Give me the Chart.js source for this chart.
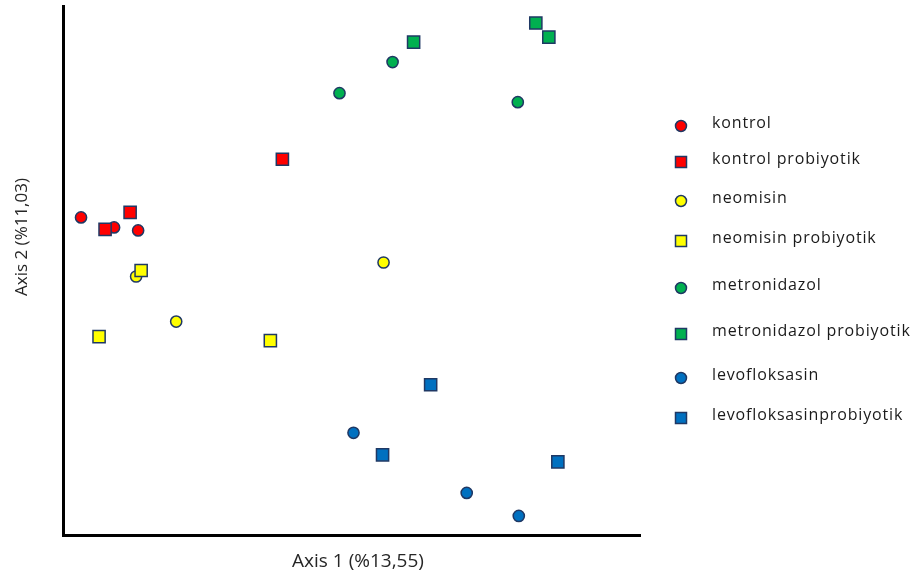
<!DOCTYPE html>
<html>
<head>
<meta charset="utf-8">
<script src="https://cdn.jsdelivr.net/npm/chart.js@4"></script>
<style>
  html, body { margin: 0; padding: 0; background: #fff; }
  #wrap { width: 918px; height: 582px; }
</style>
</head>
<body>
<div id="wrap"><canvas id="grafico"></canvas></div>
<script>
const grupos = ['kontrol', 'kontrol probiyotik', 'neomisin', 'neomisin probiyotik',
  'metronidazol', 'metronidazol probiyotik', 'levofloksasin', 'levofloksasinprobiyotik'];
const colores = ['#ff0000', '#ff0000', '#ffff00', '#ffff00', '#00b050', '#00b050', '#0070c0', '#0070c0'];
const formas = ['circle', 'rect', 'circle', 'rect', 'circle', 'rect', 'circle', 'rect'];

const kontrolX = [18, 51, 75];
const kontrolY = [317, 307, 304];
const kontrolProbX = [42, 67, 219];
const kontrolProbY = [305, 322, 375];
const neomisinX = [73, 113, 320];
const neomisinY = [258, 213, 272];
const neomisinProbX = [78, 36, 207];
const neomisinProbY = [264, 198, 194];
const metroX = [276, 329, 454];
const metroY = [441, 472, 432];
const metroProbX = [350, 472, 485];
const metroProbY = [492, 511, 497];
const levoX = [290, 403, 455];
const levoY = [102, 42, 19];
const levoProbX = [367, 319, 494];
const levoProbY = [150, 80, 73];

const ejesX = [kontrolX, kontrolProbX, neomisinX, neomisinProbX, metroX, metroProbX, levoX, levoProbX];
const ejesY = [kontrolY, kontrolProbY, neomisinY, neomisinProbY, metroY, metroProbY, levoY, levoProbY];

const tituloX = 'Axis 1 (%13,55)';
const tituloY = 'Axis 2 (%11,03)';

/* posiciones verticales de la leyenda (como en el original, espaciado irregular) */
const leyendaY = [126, 162, 201, 241, 288, 334, 378, 418];

const borde = '#1f3864';

let datasets = [];
for (let i = 0; i < grupos.length; i++) {
  let puntos = [];
  for (let j = 0; j < ejesX[i].length; j++) {
    puntos.push({ x: ejesX[i][j], y: ejesY[i][j] });
  }
  datasets.push({
    label: grupos[i],
    data: puntos,
    backgroundColor: colores[i],
    borderColor: borde,
    borderWidth: 1.5,
    pointStyle: formas[i],
    pointRadius: formas[i] === 'rect' ? 8.6 : 5.6,
    pointHoverRadius: formas[i] === 'rect' ? 8.6 : 5.6,
    order: formas[i] === 'rect' ? 0 : 1
  });
}

/* Leyenda y titulos dibujados a mano */
const extras = {
  id: 'extras',
  afterDraw(chart) {
    const ctx = chart.ctx;
    ctx.save();
    // titulos de ejes
    ctx.fillStyle = '#262626';
    ctx.textAlign = 'center';
    ctx.textBaseline = 'middle';
    ctx.font = '19px "Open Sans"';
    ctx.fillText(tituloX, 358, 562);
    ctx.font = '17px "Open Sans"';
    ctx.translate(22, 237);
    ctx.rotate(-Math.PI / 2);
    ctx.fillText(tituloY, 0, 0);
    ctx.restore();

    ctx.save();
    ctx.font = '16px "Open Sans"';
    ctx.letterSpacing = '0.85px';
    ctx.textBaseline = 'middle';
    ctx.textAlign = 'left';
    for (let i = 0; i < grupos.length; i++) {
      const y = leyendaY[i];
      ctx.fillStyle = colores[i];
      ctx.strokeStyle = borde;
      ctx.lineWidth = 1.5;
      ctx.beginPath();
      if (formas[i] === 'circle') {
        ctx.arc(681, y, 5.5, 0, Math.PI * 2);
      } else {
        ctx.rect(675.5, y - 5.5, 11, 11);
      }
      ctx.fill();
      ctx.stroke();
      ctx.fillStyle = '#1a1a1a';
      ctx.fillText(grupos[i], 712, y - 3);
    }
    ctx.restore();
  }
};

const ctx = document.getElementById('grafico');
const grafico = new Chart(ctx, {
  type: 'scatter',
  data: { datasets: datasets },
  options: {
    responsive: true,
    maintainAspectRatio: false,
    animation: false,
    layout: { autoPadding: false, padding: { left: 63, right: 278, top: 6, bottom: 47 } },
    plugins: {
      legend: { display: false },
      tooltip: { enabled: false }
    },
    scales: {
      x: {
        min: 0, max: 576,
        grid: { display: false, drawTicks: false },
        ticks: { display: false },
        border: { display: true, color: '#000', width: 3 }
      },
      y: {
        min: 0, max: 528,
        grid: { display: false, drawTicks: false },
        ticks: { display: false },
        border: { display: true, color: '#000', width: 3 }
      }
    }
  },
  plugins: [extras]
});
</script>
</body>
</html>
